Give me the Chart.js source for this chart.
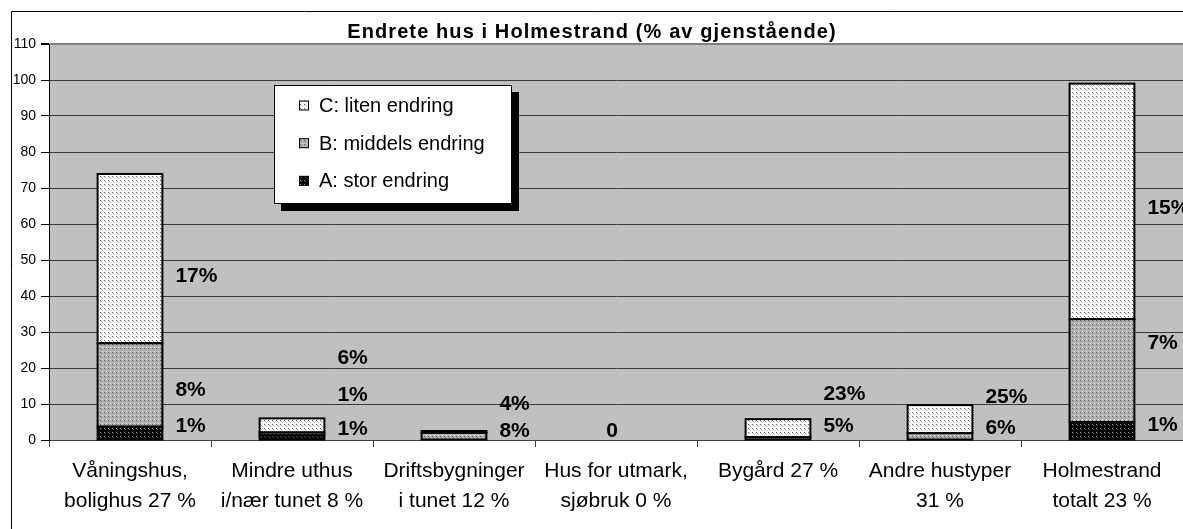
<!DOCTYPE html>
<html lang="no">
<head>
<meta charset="utf-8">
<title>Endrete hus i Holmestrand</title>
<script src="https://cdn.jsdelivr.net/npm/chart.js"></script>
<style>
  body { margin: 0; background: #fff; }
  canvas { display: block; }
</style>
</head>
<body>
<canvas id="grafico" width="1183" height="529"></canvas>
<script>
// Kategorier (to linjer per etikett)
const kategorier = [
  ['Våningshus,', 'bolighus 27 %'],
  ['Mindre uthus', 'i/nær tunet 8 %'],
  ['Driftsbygninger', 'i tunet 12 %'],
  ['Hus for utmark,', 'sjøbruk 0 %'],
  ['Bygård 27 %'],
  ['Andre hustyper', '31 %'],
  ['Holmestrand', 'totalt 23 %']
];

// Verdier lest av bildet
const storEndring = [3.7, 1.3, 0, 0, 0, 0, 5];
const middelsEndring = [23.2, 0.8, 2.0, 0, 0.8, 1.9, 28.6];
const litenEndring = [47, 3.9, 0.5, 0, 5.0, 7.8, 65.4];

// Prosentetiketter og hvor høyt de står (i akseverdier)
const etikettC = ['17%', '6%', '4%', null, '23%', '25%', '15%'];
const etikettB = ['8%', '1%', '8%', null, '5%', '6%', '7%'];
const etikettA = ['1%', '1%', null, '0', null, null, '1%'];
const nivaC = [45.4, 22.8, 10, null, 12.7, 12, 64.4];
const nivaB = [13.9, 12.5, 2.5, null, 3.7, 3.3, 27];
const nivaA = [3.7, 3, null, 2.5, null, null, 4];

const yTicks = [0, 10, 20, 30, 40, 50, 60, 70, 80, 90, 100, 110];

const skrift = '"Liberation Sans", Arial, sans-serif';

// Prikkete fyllmønster som i Excel
function lagMonster(bunn, prikker) {
  const c = document.createElement('canvas');
  c.width = 4;
  c.height = 4;
  const g = c.getContext('2d');
  g.fillStyle = bunn;
  g.fillRect(0, 0, 4, 4);
  prikker.forEach(p => {
    g.fillStyle = p[2];
    g.fillRect(p[0], p[1], 1, 1);
  });
  return g.createPattern(c, 'repeat');
}

const graficoCanvas = document.getElementById('grafico');
const ctx0 = graficoCanvas.getContext('2d');
const monsterC = lagMonster('#ffffff', [[0, 0, '#5a5a5a'], [1, 1, '#9a9a9a'], [2, 2, '#d0d0d0']]);
const monsterB = lagMonster('#b4b4b4', [[0, 0, '#5e5e5e'], [1, 1, '#7c7c7c'], [2, 3, '#e4e4e4']]);
const monsterA = lagMonster('#000000', [[0, 0, '#a8a8a8'], [1, 1, '#606060']]);

// Bakgrunn, ramme, kanter, tittel, etiketter og forklaring
const tegnEkstra = {
  id: 'tegnEkstra',
  beforeDraw(chart) {
    const ctx = chart.ctx;
    const a = chart.chartArea;
    ctx.save();
    ctx.fillStyle = '#ffffff';
    ctx.fillRect(0, 0, chart.width, chart.height);
    ctx.fillStyle = '#c0c0c0';
    ctx.fillRect(a.left, a.top, a.right - a.left, a.bottom - a.top);
    ctx.restore();
  },
  afterDatasetsDraw(chart) {
    // svart kant rundt hvert segment, delt strek mellom segmentene
    const ctx = chart.ctx;
    ctx.save();
    ctx.strokeStyle = '#000';
    ctx.lineWidth = 2;
    chart.data.datasets.forEach((ds, d) => {
      chart.getDatasetMeta(d).data.forEach(bar => {
        const p = bar.getProps(['x', 'y', 'base', 'width']);
        if (Math.abs(p.base - p.y) < 0.1) return;
        ctx.strokeRect(p.x - p.width / 2, p.y, p.width, p.base - p.y);
      });
    });
    ctx.restore();
  },
  afterDraw(chart) {
    const ctx = chart.ctx;
    const xs = chart.scales.x;
    const ys = chart.scales.y;
    ctx.save();

    // ytre ramme
    ctx.strokeStyle = '#000';
    ctx.lineWidth = 1;
    ctx.beginPath();
    ctx.moveTo(11.5, chart.height);
    ctx.lineTo(11.5, 11.5);
    ctx.lineTo(chart.width, 11.5);
    ctx.stroke();

    // tittel
    ctx.fillStyle = '#000';
    ctx.font = 'bold 20px ' + skrift;
    ctx.letterSpacing = '1.1px';
    ctx.textAlign = 'center';
    ctx.textBaseline = 'alphabetic';
    ctx.fillText('Endrete hus i Holmestrand (% av gjenstående)', 592, 38);
    ctx.letterSpacing = '0px';

    // prosentetiketter
    ctx.font = 'bold 21px ' + skrift;
    ctx.textBaseline = 'middle';
    const grupper = [[etikettC, nivaC], [etikettB, nivaB], [etikettA, nivaA]];
    const meta = chart.getDatasetMeta(0);
    grupper.forEach(([tekster, nivaer]) => {
      tekster.forEach((t, i) => {
        if (t === null) return;
        const y = ys.getPixelForValue(nivaer[i]);
        const sum = storEndring[i] + middelsEndring[i] + litenEndring[i];
        if (sum === 0) {
          ctx.textAlign = 'center';
          ctx.fillText(t, xs.getPixelForValue(i) - 4, y);
        } else {
          const bar = meta.data[i];
          ctx.textAlign = 'left';
          ctx.fillText(t, bar.x + bar.width / 2 + 13, y);
        }
      });
    });

    // forklaring
    const bx = 274, by = 85, bw = 238, bh = 119;
    ctx.fillStyle = '#000';
    ctx.fillRect(bx + 7, by + 7, bw, bh);
    ctx.fillStyle = '#fff';
    ctx.fillRect(bx, by, bw, bh);
    ctx.strokeStyle = '#000';
    ctx.strokeRect(bx + 0.5, by + 0.5, bw - 1, bh - 1);
    ctx.font = '20px ' + skrift;
    ctx.textAlign = 'left';
    const rekkefolge = chart.data.datasets.slice().reverse();
    rekkefolge.forEach((ds, k) => {
      const cy = 105.5 + k * 37.7;
      ctx.fillStyle = ds.backgroundColor;
      ctx.fillRect(299, cy - 5, 10, 10);
      ctx.strokeStyle = '#000';
      ctx.strokeRect(299.5, cy - 4.5, 9, 9);
      ctx.fillStyle = '#000';
      ctx.fillText(ds.label, 319, cy + 1);
    });
    ctx.restore();
  }
};

const chart = new Chart(graficoCanvas, {
  type: 'bar',
  data: {
    labels: kategorier,
    datasets: [
      {
        label: 'A: stor endring',
        data: storEndring,
        backgroundColor: monsterA
      },
      {
        label: 'B: middels endring',
        data: middelsEndring,
        backgroundColor: monsterB
      },
      {
        label: 'C: liten endring',
        data: litenEndring,
        backgroundColor: monsterC
      }
    ]
  },
  options: {
    responsive: false,
    animation: false,
    events: [],
    barPercentage: 0.5,
    categoryPercentage: 0.8,
    datasets: {
      bar: { borderWidth: 0 }
    },
    layout: { padding: { top: 44, left: 0, right: 0, bottom: 0 } },
    scales: {
      x: {
        stacked: true,
        afterFit: s => { s.height = 89; },
        grid: {
          drawOnChartArea: false,
          drawTicks: true,
          tickLength: 7,
          color: '#404040'
        },
        border: { color: '#404040', width: 1 },
        ticks: {
          color: '#000',
          padding: 10,
          maxRotation: 0,
          autoSkip: false,
          font: { family: skrift, size: 21, lineHeight: 1.4 }
        }
      },
      y: {
        stacked: true,
        min: 0,
        max: 110,
        afterFit: s => { s.width = 49; },
        afterBuildTicks: s => { s.ticks = yTicks.map(v => ({ value: v })); },
        grid: {
          color: c => (c.tick && c.tick.value === 110 ? '#808080' : '#3c3c3c'),
          lineWidth: c => (c.tick && c.tick.value === 110 ? 2 : 1),
          tickLength: 8,
          tickColor: '#000'
        },
        border: { color: '#000', width: 1 },
        ticks: {
          color: '#000',
          padding: 5,
          font: { family: skrift, size: 14 }
        }
      }
    },
    plugins: {
      legend: { display: false },
      title: { display: false },
      tooltip: { enabled: false }
    }
  },
  plugins: [tegnEkstra]
});
</script>
</body>
</html>
